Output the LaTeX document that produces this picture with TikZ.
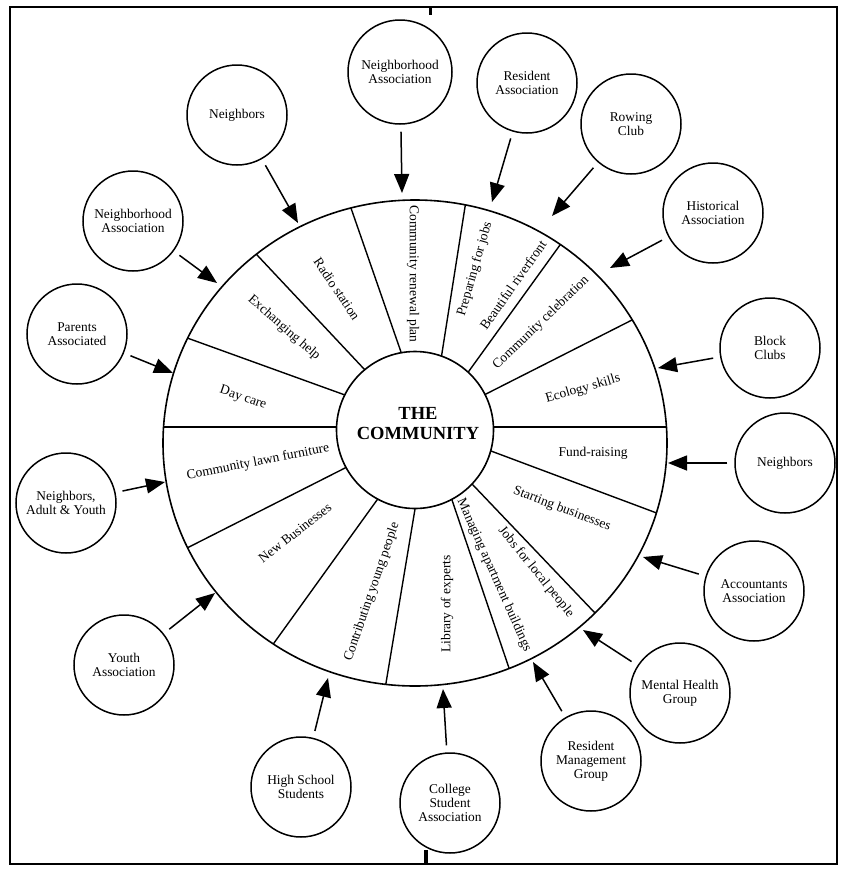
\documentclass[tikz,border=0pt]{standalone}
\usepackage{fontspec}
\setmainfont{Liberation Serif}
\usetikzlibrary{arrows.meta,calc}
\begin{document}
\begin{tikzpicture}[x=1pt,y=-1pt,
  small/.style={circle, draw, line width=1.5pt, minimum size=100pt, inner sep=0pt,
    align=center, font=\fontsize{13.4}{14}\selectfont},
  lab/.style={font=\fontsize{13.5}{15}\selectfont, inner sep=0pt},
  arr/.style={line width=1.5pt, -{Triangle[length=19pt,width=15pt]}, shorten <=7pt},
  ring/.style={line width=1.6pt},
  spoke/.style={line width=1.4pt}]
\useasboundingbox (0,0) rectangle (847,871);
% frame and scan ticks
\draw[line width=2.4pt] (10,7) rectangle (837,864);
\fill (429,7) rectangle (432,15);
\fill (424,850) rectangle (428,864);

% spokes, clipped to the outer ring
\begin{scope}
  \clip (415,443) ellipse [x radius=252pt, y radius=243pt];
  \foreach \ix/\iy/\ox/\oy in {345/395/190/339, 365/370/258/256, 401/352/352/211,
      442/353/465/207, 469/371/560/245, 486/394/632/320, 493/427/668/427,
      491/451/654/512, 473/485/595/613, 452/500/509/668, 415/509/386/683,
      377/500/274/643, 345/468/191/546, 337/427/163/427}
    \draw[spoke] ($(\ox,\oy)!1.04!(\ix,\iy)$) -- ($(\ix,\iy)!1.2!(\ox,\oy)$);
\end{scope}
\draw[ring] (415,443) ellipse [x radius=252pt, y radius=243pt];
\node[circle, draw, line width=1.6pt, fill=white, minimum size=157pt, inner sep=0pt] (hub) at (415,430) {};
\node[font=\fontsize{18.5}{20}\selectfont\bfseries, align=center, inner sep=0pt] (core) at (418,424) {THE\\COMMUNITY};

% sector labels
\node[lab, rotate=-19] (s1) at (243,398) {Day care};
\node[lab, rotate=-41] (s2) at (284,328) {Exchanging help};
\node[lab, rotate=-56] (s3) at (337,289) {Radio station};
\node[lab, rotate=-90] (s4) at (413,274) {Community renewal plan};
\node[lab, rotate=74] (s5) at (475,269) {Preparing for jobs};
\node[lab, rotate=55] (s6) at (513,285) {Beautiful riverfront};
\node[lab, rotate=44] (s7) at (541,323) {Community celebration};
\node[lab, rotate=16] (s8) at (583,389) {Ecology skills};
\node[lab] (s9) at (593,453) {Fund-raising};
\node[lab, rotate=-21] (s10) at (562,509) {Starting businesses};
\node[lab, rotate=-51] (s11) at (536,572) {Jobs for local people};
\node[lab, rotate=-66] (s12) at (494,575) {Managing apartment buildings};
\node[lab, rotate=90] (s13) at (447,604) {Library of experts};
\node[lab, rotate=71] (s14) at (372,592) {Contributing young people};
\node[lab, rotate=38] (s15) at (295,533) {New Businesses};
\node[lab, rotate=11] (s16) at (258,462) {Community lawn furniture};

% outer groups
\node[small] (nbUL) at (237,115) {Neighbors};
\node[small, minimum size=104pt] (naT) at (400,72) {Neighborhood\\Association};
\node[small] (raT) at (527,83) {Resident\\Association};
\node[small] (rc) at (631,124) {Rowing\\Club};
\node[small] (ha) at (713,213) {Historical\\Association};
\node[small] (bc) at (770,348) {Block\\Clubs};
\node[small] (nbR) at (785,463) {Neighbors};
\node[small] (aa) at (754,591) {Accountants\\Association};
\node[small] (mh) at (680,693) {Mental Health\\Group};
\node[small] (rm) at (591,761) {Resident\\Management\\Group};
\node[small] (cs) at (450,803) {College\\Student\\Association};
\node[small] (hs) at (301,787) {High School\\Students};
\node[small] (ya) at (124,665) {Youth\\Association};
\node[small] (nay) at (66,503) {Neighbors,\\Adult \& Youth};
\node[small] (pa) at (77,334) {Parents\\Associated};
\node[small] (naL) at (133,221) {Neighborhood\\Association};

% arrow tips on the ring
\coordinate (tnbUL) at (298,223);
\coordinate (tnaT) at (402,193);
\coordinate (traT) at (492,202);
\coordinate (trc) at (552,216);
\coordinate (tha) at (610,268);
\coordinate (tbc) at (658,368);
\coordinate (tnbR) at (668,463);
\coordinate (taa) at (643,557);
\coordinate (tmh) at (583,630);
\coordinate (trm) at (533,662);
\coordinate (tcs) at (443,689);
\coordinate (ths) at (328,678);
\coordinate (tya) at (215,593);
\coordinate (tnay) at (165,482);
\coordinate (tpa) at (173,373);
\coordinate (tnaL) at (217,283);

\foreach \n in {nbUL,naT,raT,rc,ha,bc,nbR,aa,mh,rm,cs,hs,ya,nay,pa,naL}
  \draw[arr] (\n) -- (t\n);
\end{tikzpicture}
\end{document}
